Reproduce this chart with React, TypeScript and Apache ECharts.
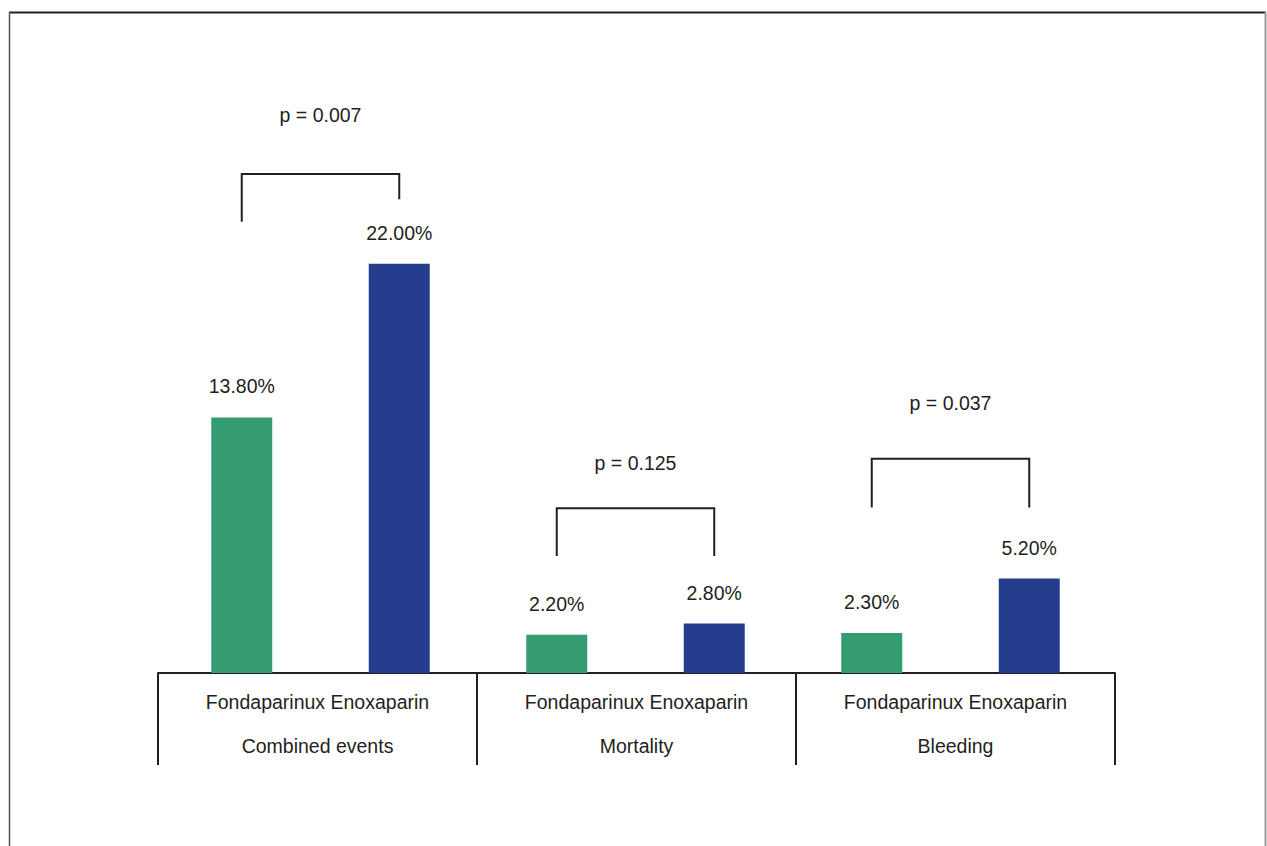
import React, { useEffect, useRef } from "react";
import * as echarts from "echarts";

const barCategories = ["Fondaparinux", "Enoxaparin", "Fondaparinux", "Enoxaparin", "Fondaparinux", "Enoxaparin"];
const groupNames = ["Combined events", "Mortality", "Bleeding"];
const fondaparinuxValues = [13.8, null, 2.2, null, 2.3, null];
const enoxaparinValues = [null, 22.0, null, 2.8, null, 5.2];

const pLabels = ["p = 0.007", "p = 0.125", "p = 0.037"];
const bracketLeftBar = [0, 2, 4];
const bracketRightBar = [1, 3, 5];
const bracketTop = [26.8, 8.95, 11.6];
const bracketLeftEnd = [24.25, 6.4, 9.0];
const bracketRightEnd = [25.45, 6.4, 9.0];
const pLabelLevel = [29.95, 11.35, 14.55];

const GREEN = "#349c70";
const BLUE = "#243e8d";
const INK = "#231f20";
const FONT = "Liberation Sans, Arial, sans-serif";

export default function App() {
  const ref = useRef<HTMLDivElement>(null);
  useEffect(() => {
    if (!ref.current) return;
    const chart = echarts.init(ref.current, null, { renderer: "svg" });
    const labelCfg = {
      show: true,
      position: "top",
      distance: 21,
      color: INK,
      fontFamily: FONT,
      fontSize: 19.5,
      formatter: (p: any) => Number(p.value).toFixed(2) + "%",
    };
    const bracketData = pLabels.map((_, i) => [
      bracketLeftBar[i],
      bracketTop[i],
      bracketRightBar[i],
      bracketLeftEnd[i],
      bracketRightEnd[i],
      pLabelLevel[i],
    ]);
    chart.setOption({
      animation: false,
      backgroundColor: "#ffffff",
      grid: [
        { left: 163, right: 159, top: 114, bottom: 173 },
        { left: 158, right: 152, top: 114, bottom: 173 },
      ],
      xAxis: [
        {
          type: "category",
          gridIndex: 0,
          data: barCategories,
          axisLine: { show: false },
          axisTick: { show: false },
          axisLabel: { show: false },
        },
        {
          type: "category",
          gridIndex: 1,
          data: groupNames.map((g) => "Fondaparinux Enoxaparin\n" + g),
          axisLine: { show: true, lineStyle: { color: INK, width: 2 } },
          axisTick: { show: true, length: 92, lineStyle: { color: INK, width: 2 } },
          axisLabel: {
            show: true,
            margin: 7,
            color: INK,
            fontFamily: FONT,
            fontSize: 19.5,
            lineHeight: 44,
          },
        },
      ],
      yAxis: [
        { type: "value", gridIndex: 0, min: 0.16, max: 30, show: false },
        { type: "value", gridIndex: 1, min: 0, max: 30, show: false },
      ],
      series: [
        {
          type: "bar",
          xAxisIndex: 0,
          yAxisIndex: 0,
          data: fondaparinuxValues,
          barWidth: 61,
          barGap: "-100%",
          itemStyle: { color: GREEN },
          label: labelCfg,
        },
        {
          type: "bar",
          xAxisIndex: 0,
          yAxisIndex: 0,
          data: enoxaparinValues,
          barWidth: 61,
          barGap: "-100%",
          itemStyle: { color: BLUE },
          label: labelCfg,
        },
        {
          type: "custom",
          xAxisIndex: 0,
          yAxisIndex: 0,
          clip: false,
          data: bracketData,
          encode: { x: 0, y: 1 },
          renderItem: (params: any, api: any) => {
            const l = api.value(0);
            const top = api.value(1);
            const r = api.value(2);
            const le = api.value(3);
            const re = api.value(4);
            const ly = api.value(5);
            const pL = api.coord([l, le]);
            const pLT = api.coord([l, top]);
            const pRT = api.coord([r, top]);
            const pR = api.coord([r, re]);
            const pLab = api.coord([l, ly]);
            return {
              type: "group",
              children: [
                {
                  type: "polyline",
                  shape: { points: [pL, pLT, pRT, pR] },
                  style: { stroke: INK, lineWidth: 2, fill: "none" },
                },
                {
                  type: "text",
                  x: (pLT[0] + pRT[0]) / 2,
                  y: pLab[1],
                  style: {
                    text: pLabels[params.dataIndex],
                    fill: INK,
                    font: "19.5px " + FONT,
                    align: "center",
                    verticalAlign: "middle",
                  },
                },
              ],
            };
          },
        },
      ],
      graphic: [
        { type: "line", shape: { x1: 9, y1: 12.5, x2: 1266, y2: 12.5 }, style: { stroke: INK, lineWidth: 2 } },
        { type: "line", shape: { x1: 9.5, y1: 12, x2: 9.5, y2: 846 }, style: { stroke: "#555555", lineWidth: 1.5 } },
        { type: "line", shape: { x1: 1265.5, y1: 12, x2: 1265.5, y2: 846 }, style: { stroke: "#999999", lineWidth: 2 } },
      ],
    });
    return () => chart.dispose();
  }, []);
  return (
    <div
      ref={ref}
      style={{ position: "absolute", left: 0, top: 0, width: 1267, height: 846 }}
    />
  );
}
